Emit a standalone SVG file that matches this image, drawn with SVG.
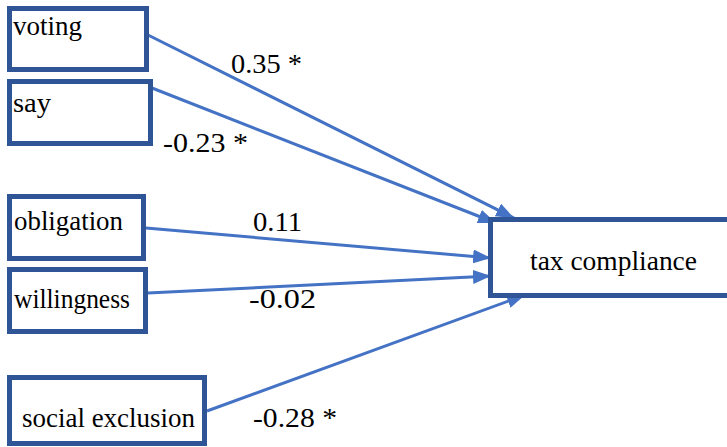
<svg xmlns="http://www.w3.org/2000/svg" width="727" height="447" viewBox="0 0 727 447">
<defs>
<style>
.box{fill:#fff;stroke:#2F5597;stroke-width:5}
.t{font-family:'Liberation Serif','DejaVu Serif',serif;font-size:27px;fill:#000}
.c{fill:none;stroke:#4472C4;stroke-width:3}
</style>
<marker id="ah" markerUnits="userSpaceOnUse" markerWidth="18" markerHeight="14" viewBox="0 0 18 14" refX="18" refY="7" orient="auto">
<path d="M0,0 L18,7 L0,14 Z" fill="#4472C4"/>
</marker>
</defs>
<rect width="727" height="447" fill="#fff"/>
<g id="connectors">
<line class="c" x1="148" y1="35" x2="514" y2="218" marker-end="url(#ah)"/>
<line class="c" x1="152" y1="88" x2="496" y2="223" marker-end="url(#ah)"/>
<line class="c" x1="146" y1="228" x2="491" y2="258" marker-end="url(#ah)"/>
<line class="c" x1="148" y1="293" x2="491" y2="276" marker-end="url(#ah)"/>
<line class="c" x1="207" y1="411" x2="525" y2="295" marker-end="url(#ah)"/>
</g>
<g id="labels">
<text class="t" x="231" y="73" textLength="71" lengthAdjust="spacingAndGlyphs">0.35 *</text>
<text class="t" x="163" y="152" textLength="85" lengthAdjust="spacingAndGlyphs">-0.23 *</text>
<text class="t" x="253" y="231" textLength="49" lengthAdjust="spacingAndGlyphs">0.11</text>
<text class="t" x="249" y="308" textLength="67" lengthAdjust="spacingAndGlyphs">-0.02</text>
<text class="t" x="253" y="427" textLength="84" lengthAdjust="spacingAndGlyphs">-0.28 *</text>
</g>
<g id="voting">
<rect class="box" x="9.5" y="8.5" width="137" height="61"/>
<text class="t" x="13" y="35" textLength="69" lengthAdjust="spacingAndGlyphs">voting</text>
</g>
<g id="say">
<rect class="box" x="9.5" y="81.5" width="141" height="62"/>
<text class="t" x="13" y="112" textLength="38" lengthAdjust="spacingAndGlyphs">say</text>
</g>
<g id="obligation">
<rect class="box" x="9.5" y="196.5" width="134" height="62"/>
<text class="t" x="14" y="230" textLength="109" lengthAdjust="spacingAndGlyphs">obligation</text>
</g>
<g id="willingness">
<rect class="box" x="9.5" y="269.5" width="136" height="62"/>
<text class="t" x="14" y="308" textLength="116" lengthAdjust="spacingAndGlyphs">willingness</text>
</g>
<g id="social_exclusion">
<rect class="box" x="9.5" y="377.5" width="195" height="66"/>
<text class="t" x="22" y="427" textLength="173" lengthAdjust="spacingAndGlyphs">social exclusion</text>
</g>
<g id="tax_compliance">
<rect class="box" x="490.5" y="219.5" width="250" height="76"/>
<text class="t" x="530" y="270" textLength="167" lengthAdjust="spacingAndGlyphs">tax compliance</text>
</g>
</svg>
